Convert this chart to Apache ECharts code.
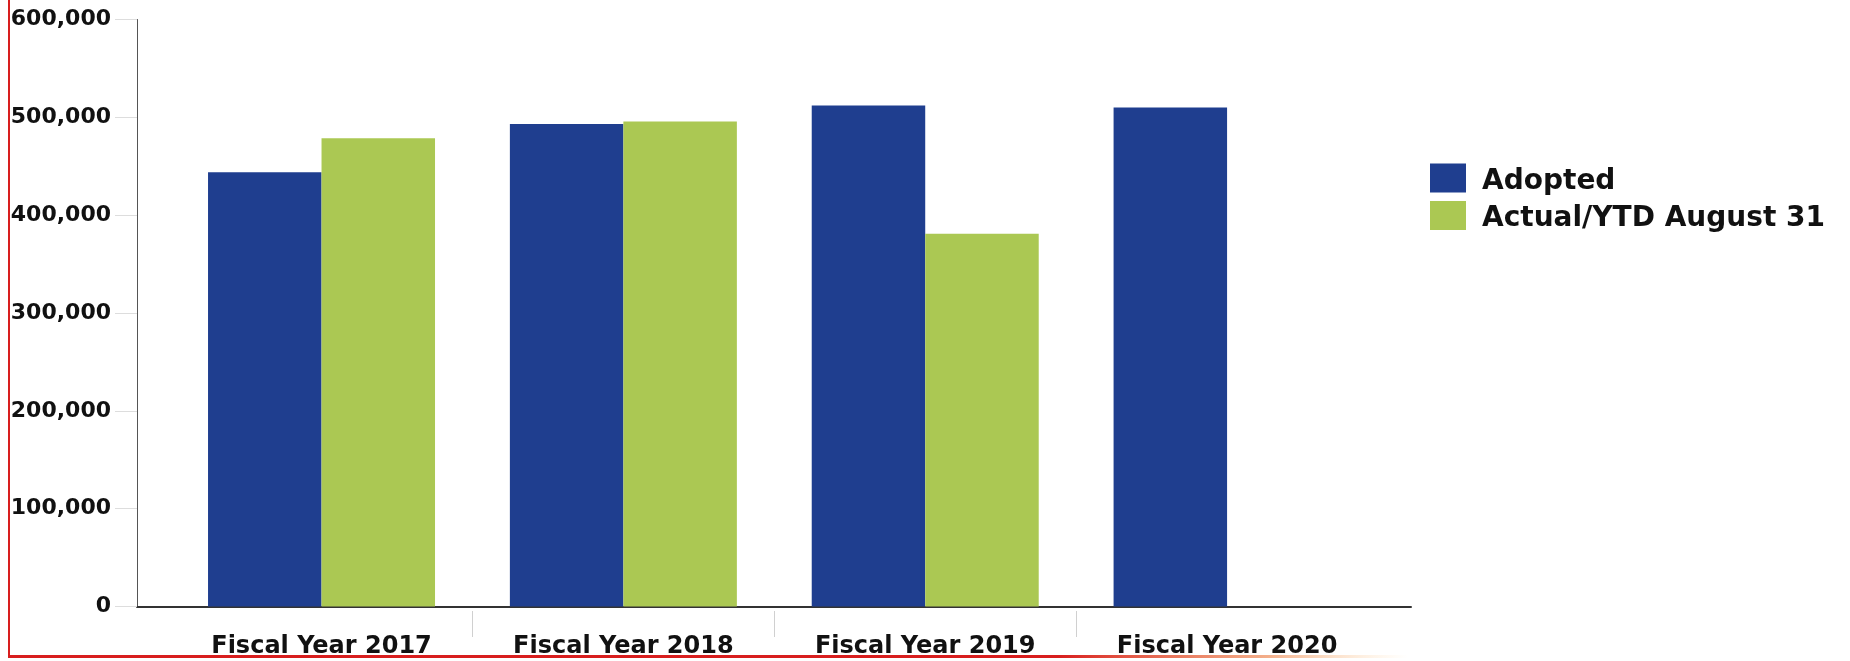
<!DOCTYPE html>
<html>
<head>
<meta charset="utf-8">
<title>Adopted vs Actual/YTD</title>
<script src="https://cdn.jsdelivr.net/npm/echarts@6/dist/echarts.min.js"></script>
<style>
  html, body { margin: 0; padding: 0; background: #ffffff; }
  #chart { width: 1850px; height: 661px; }
</style>
</head>
<body>
<div id="chart"></div>
<script>
// Fiscal-year categories
const categories = ['Fiscal Year 2017', 'Fiscal Year 2018', 'Fiscal Year 2019', 'Fiscal Year 2020'];
// Adopted budget per year
const adopted = [443800, 493300, 512200, 510000];
// Actual / year-to-date through August 31 (no figure yet for 2020)
const actualYtd = [478600, 495800, 381000, null];
// Value axis ticks
const yTicks = [0, 100000, 200000, 300000, 400000, 500000, 600000];

const seriesNames = ['Adopted', 'Actual/YTD August 31'];
const colors = ['#1f3e8f', '#abc853'];
const FONT = '"DejaVu Sans", Verdana, sans-serif';

const yMin = yTicks[0];
const yMax = yTicks[yTicks.length - 1];
const yStep = yTicks[1] - yTicks[0];

const chart = echarts.init(document.getElementById('chart'), null, { renderer: 'canvas' });

chart.setOption({
  animation: false,
  backgroundColor: '#ffffff',
  color: colors,
  grid: [
    // outer frame: value axis with labels and the long baseline
    { left: 137, right: 439, top: 19.5, bottom: 54.5, containLabel: false },
    // plotting area for the bars
    { left: 170.6, right: 472, top: 19.5, bottom: 54.5, containLabel: false },
    // thin strip below the baseline holding the category separators
    { left: 170.6, right: 472, top: 611, height: 26, containLabel: false }
  ],
  xAxis: [
    {
      gridIndex: 0, type: 'value', min: 0, max: 1,
      axisLine: { show: true, onZero: false, lineStyle: { color: '#333333', width: 2 } },
      axisTick: { show: false }, axisLabel: { show: false }, splitLine: { show: false }
    },
    {
      gridIndex: 1, type: 'category', data: categories,
      axisLine: { show: false }, axisTick: { show: false }, splitLine: { show: false },
      axisLabel: {
        show: true, interval: 0, margin: 28,
        color: '#111111', fontFamily: FONT, fontWeight: 'bold', fontSize: 24, lineHeight: 24
      }
    },
    {
      gridIndex: 2, type: 'category', data: categories,
      axisLine: { show: false }, axisTick: { show: false }, axisLabel: { show: false },
      splitLine: { show: true, showMinLine: false, showMaxLine: false, lineStyle: { color: '#d0d0d0', width: 1 } }
    }
  ],
  yAxis: [
    {
      gridIndex: 0, type: 'value', min: yMin, max: yMax, interval: yStep,
      axisLine: { show: true, lineStyle: { color: '#555555', width: 1 } },
      axisTick: { show: true, length: 22, lineStyle: { color: '#dddddd', width: 1 } },
      splitLine: { show: false },
      axisLabel: {
        show: true, margin: 26, color: '#111111', fontFamily: FONT, fontWeight: 'bold', fontSize: 22,
        formatter: v => Number(v).toLocaleString('en-US')
      }
    },
    {
      gridIndex: 1, type: 'value', min: yMin, max: yMax, interval: yStep, show: false,
      splitLine: { show: false }
    },
    {
      gridIndex: 2, type: 'value', min: 0, max: 1, show: false, splitLine: { show: false }
    }
  ],
  legend: {
    orient: 'vertical',
    left: 1425,
    top: 155.5,
    itemWidth: 36,
    itemHeight: 29,
    itemGap: 2.5,
    icon: 'rect',
    data: seriesNames,
    formatter: name => '{t|' + name + '}',
    textStyle: {
      color: '#111111', fontFamily: FONT, fontWeight: 'bold', fontSize: 28,
      rich: {
        t: {
          color: '#111111', fontFamily: FONT, fontWeight: 'bold', fontSize: 28,
          lineHeight: 22, padding: [7, 0, 0, 11]
        }
      }
    }
  },
  series: [
    {
      name: seriesNames[0], type: 'bar', xAxisIndex: 1, yAxisIndex: 1,
      data: adopted, barGap: '0%', barCategoryGap: '24.8%',
      itemStyle: { color: colors[0] }
    },
    {
      name: seriesNames[1], type: 'bar', xAxisIndex: 1, yAxisIndex: 1,
      data: actualYtd, barGap: '0%', barCategoryGap: '24.8%',
      itemStyle: { color: colors[1] }
    }
  ],
  graphic: [
    // page border around the chart
    { type: 'rect', left: 8, top: 0, shape: { width: 2, height: 658 }, style: { fill: '#d81e1e' }, silent: true },
    {
      type: 'rect', left: 8, top: 655, shape: { width: 1400, height: 3 }, silent: true,
      style: {
        fill: new echarts.graphic.LinearGradient(0, 0, 1, 0, [
          { offset: 0, color: 'rgba(216,30,30,1)' },
          { offset: 0.75, color: 'rgba(216,30,30,1)' },
          { offset: 0.9, color: 'rgba(235,120,60,0.6)' },
          { offset: 1, color: 'rgba(255,200,120,0)' }
        ])
      }
    }
  ]
});
</script>
</body>
</html>
